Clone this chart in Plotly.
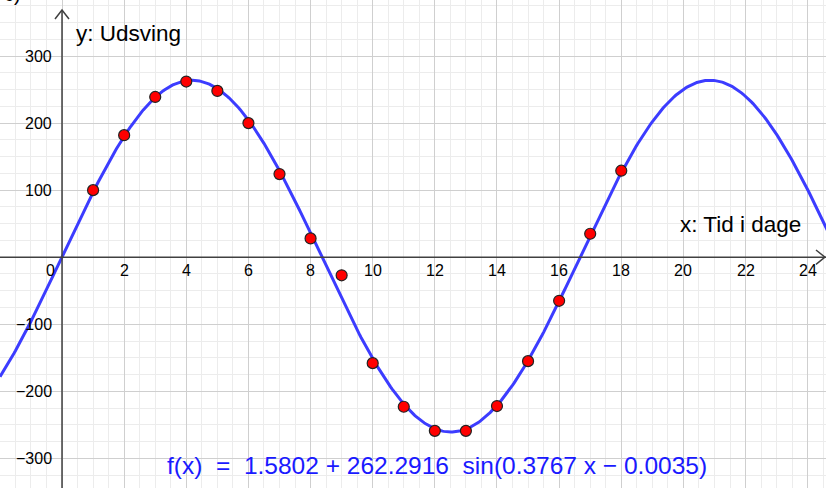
import numpy as np
import plotly.graph_objects as go

# Measured displacement per day
days = [1, 2, 3, 4, 5, 6, 7, 8, 9, 10, 11, 12, 13, 14, 15, 16, 17, 18]
udsving = [100, 182, 239, 262, 248, 200, 124, 28, -27, -158, -223, -259,
           -259, -222, -155, -65, 35, 129]

# Fitted sine model f(x) = d + a*sin(b*x + c)
fit_d = 1.5802
fit_a = 262.2916
fit_b = 0.3767
fit_c = -0.0035

x_ticks = [0, 2, 4, 6, 8, 10, 12, 14, 16, 18, 20, 22, 24]
y_ticks = [-300, -200, -100, 100, 200, 300]

W, H = 826, 488
X_RANGE = [-1.996, 24.59]
Y_RANGE = [-344.2, 383.6]

xs = np.linspace(X_RANGE[0], X_RANGE[1] + 0.5, 600)
ys = fit_d + fit_a * np.sin(fit_b * xs + fit_c)

FONT = "Liberation Sans, Arial, sans-serif"
AXIS_COLOR = "#404040"

fig = go.Figure()
fig.add_trace(go.Scatter(x=xs, y=ys, mode="lines",
                         line=dict(color="#3c3cff", width=3),
                         hoverinfo="skip", showlegend=False))
fig.add_trace(go.Scatter(x=days, y=udsving, mode="markers",
                         marker=dict(size=11, color="#ff0000",
                                     line=dict(color="#222222", width=1.2)),
                         showlegend=False))


def px(xp):
    return xp / W


def py(yp):
    return 1 - yp / H


shapes = [
    # x axis and arrow
    dict(type="line", xref="paper", yref="y", x0=0, x1=1, y0=0, y1=0,
         line=dict(color=AXIS_COLOR, width=1.5)),
    dict(type="path", xref="paper", yref="paper",
         path=f"M {px(816)} {py(250)} L {px(825)} {py(257.2)} L {px(816)} {py(264.4)}",
         line=dict(color=AXIS_COLOR, width=1.5)),
    # y axis and arrow
    dict(type="line", xref="x", yref="paper", x0=0, x1=0, y0=0, y1=py(10),
         line=dict(color=AXIS_COLOR, width=1.5)),
    dict(type="path", xref="paper", yref="paper",
         path=f"M {px(55)} {py(19)} L {px(62)} {py(10)} L {px(69)} {py(19)}",
         line=dict(color=AXIS_COLOR, width=1.5)),
]

annotations = []
for t in x_ticks:
    if t == 0:
        annotations.append(dict(x=0, y=0, xref="x", yref="y", text="0",
                                showarrow=False, xanchor="right", yanchor="top",
                                xshift=-5, yshift=-3,
                                font=dict(family=FONT, size=16, color="black")))
    else:
        annotations.append(dict(x=t, y=0, xref="x", yref="y", text=str(t),
                                showarrow=False, xanchor="center", yanchor="top",
                                yshift=-3,
                                font=dict(family=FONT, size=16, color="black")))
for t in y_ticks:
    label = str(t).replace("-", "\u2212")
    annotations.append(dict(x=0, y=t, xref="x", yref="y", text=label,
                            showarrow=False, xanchor="right", yanchor="middle",
                            xshift=-8,
                            font=dict(family=FONT, size=16, color="black")))

annotations += [
    dict(x=px(74), y=py(33), xref="paper", yref="paper", text="y: Udsving",
         showarrow=False, xanchor="left", yanchor="middle",
         font=dict(family=FONT, size=22.5, color="black")),
    dict(x=px(803), y=py(224), xref="paper", yref="paper", text="x: Tid i dage",
         showarrow=False, xanchor="right", yanchor="middle",
         font=dict(family=FONT, size=22.5, color="black")),
    dict(x=px(437), y=py(465), xref="paper", yref="paper",
         text=f"f(x)  =  {fit_d} + {fit_a}  sin({fit_b} x \u2212 {abs(fit_c)})",
         showarrow=False, xanchor="center", yanchor="middle",
         font=dict(family=FONT, size=24.5, color="#1a1aff")),
    dict(x=px(2), y=py(-6), xref="paper", yref="paper", text="c)",
         showarrow=False, xanchor="left", yanchor="middle",
         font=dict(family=FONT, size=20, color="black")),
]

fig.update_layout(
    width=W, height=H,
    margin=dict(l=0, r=0, t=0, b=0),
    paper_bgcolor="white", plot_bgcolor="white",
    xaxis=dict(range=X_RANGE, dtick=2, tick0=0, showticklabels=False,
               showgrid=True, gridcolor="#cfcfcf", gridwidth=1,
               zeroline=False, showline=False, ticks="",
               minor=dict(dtick=0.5, tick0=0, showgrid=True,
                          gridcolor="#ececec", gridwidth=1)),
    yaxis=dict(range=Y_RANGE, dtick=100, tick0=0, showticklabels=False,
               showgrid=True, gridcolor="#cfcfcf", gridwidth=1,
               zeroline=False, showline=False, ticks="",
               minor=dict(dtick=25, tick0=0, showgrid=True,
                          gridcolor="#ececec", gridwidth=1)),
    shapes=shapes,
    annotations=annotations,
)

fig.write_html("out.html")
